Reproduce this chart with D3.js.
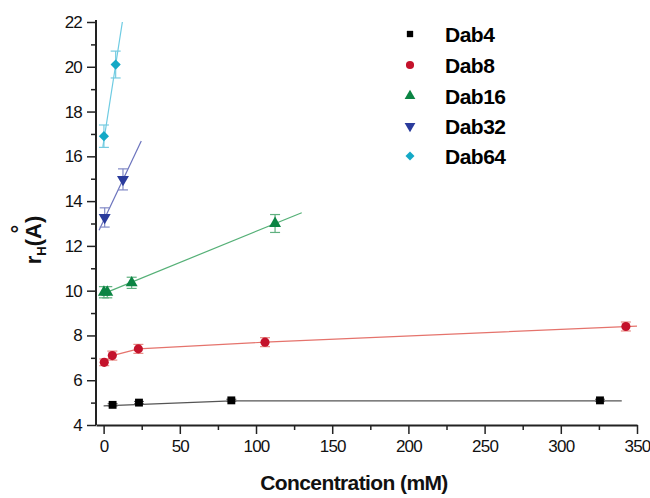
<!DOCTYPE html>
<html>
<head>
    <title>rH vs concentration</title>
    <script src="https://d3js.org/d3.v7.min.js"></script>
    <style>
        body { margin: 0; background: #fff; }
        svg { font-family: "Liberation Sans", Arial, sans-serif; }
        .tick text { font-size: 17px; fill: #111; letter-spacing: -0.8px; }
    </style>
</head>
<body>
    <div id="chart"></div>

    <script>
        // series names
        var seriesNames = ["Dab4", "Dab8", "Dab16", "Dab32", "Dab64"];

        // measured points (concentration mM, rH Å, error)
        var dab4X = [5.9, 23.2, 83.8, 325.7];
        var dab4Y = [4.9, 5.0, 5.1, 5.1];
        var dab4Err = [0.05, 0.05, 0.05, 0.05];

        var dab8X = [0.4, 5.7, 22.8, 105.9, 342.7];
        var dab8Y = [6.8, 7.1, 7.4, 7.7, 8.4];
        var dab8Err = [0.15, 0.2, 0.2, 0.2, 0.2];

        var dab16X = [0.2, 2.4, 18.4, 112.5];
        var dab16Y = [9.93, 9.93, 10.35, 13.0];
        var dab16Err = [0.25, 0.25, 0.25, 0.4];

        var dab32X = [0.7, 12.7];
        var dab32Y = [13.27, 14.97];
        var dab32Err = [0.43, 0.47];

        var dab64X = [0.2, 7.9];
        var dab64Y = [16.9, 20.1];
        var dab64Err = [0.5, 0.6];

        // fitted lines
        var dab4FitX = [0, 84, 340];
        var dab4FitY = [4.85, 5.08, 5.08];
        var dab8FitX = [0.4, 5.7, 22.8, 105.9, 350];
        var dab8FitY = [6.8, 7.1, 7.4, 7.7, 8.42];
        var dab16FitX = [0, 130];
        var dab16FitY = [9.87, 13.48];
        var dab32FitX = [-3, 24.7];
        var dab32FitY = [12.7, 16.68];
        var dab64FitX = [-0.5, 12.3];
        var dab64FitY = [16.42, 22];

        // axis ticks
        var xTicks = [0, 50, 100, 150, 200, 250, 300, 350];
        var xMinorTicks = [25, 75, 125, 175, 225, 275, 325];
        var yTicks = [4, 6, 8, 10, 12, 14, 16, 18, 20, 22];
        var yMinorTicks = [5, 7, 9, 11, 13, 15, 17, 19, 21];

        var xTitle = "Concentration (mM)";

        var markColors = ["#000000", "#c4122b", "#0b8443", "#2a3b9c", "#14a9c6"];
        var lineColors = ["#555555", "#e5736c", "#55b077", "#6b73bd", "#6dcbe2"];
        var errColors = ["#666666", "#e88a84", "#5fb07f", "#8189c6", "#76cbe0"];

        var symbols = [d3.symbolSquare, d3.symbolCircle, d3.symbolTriangle, d3.symbolTriangle, d3.symbolSquare];
        var rotations = [0, 0, 0, 180, 45];
        var sizes = [62, 66, 62, 62, 52];
        var legendSizes = [40, 52, 50, 50, 40];

        var seriesData = [
            {x: dab4X, y: dab4Y, e: dab4Err, fx: dab4FitX, fy: dab4FitY},
            {x: dab8X, y: dab8Y, e: dab8Err, fx: dab8FitX, fy: dab8FitY},
            {x: dab16X, y: dab16Y, e: dab16Err, fx: dab16FitX, fy: dab16FitY},
            {x: dab32X, y: dab32Y, e: dab32Err, fx: dab32FitX, fy: dab32FitY},
            {x: dab64X, y: dab64Y, e: dab64Err, fx: dab64FitX, fy: dab64FitY}
        ];

        var svg = d3.select("#chart").append("svg").attr("width", 650).attr("height", 498);

        var x = d3.scaleLinear().domain([-5, 350]).range([96, 637]);
        var y = d3.scaleLinear().domain([4, 22]).range([425, 22]);

        // axes
        svg.append("g")
            .attr("transform", "translate(0,425)")
            .call(d3.axisBottom(x).tickValues(xTicks).tickSize(9).tickSizeOuter(0).tickPadding(6));
        svg.append("g")
            .attr("transform", "translate(0,425)")
            .call(d3.axisBottom(x).tickValues(xMinorTicks).tickSize(5).tickFormat(""))
            .select(".domain").remove();

        var yAxis = svg.append("g")
            .attr("transform", "translate(96,0)")
            .call(d3.axisLeft(y).tickValues(yTicks).tickSize(9).tickSizeOuter(0).tickPadding(5));
        svg.append("g")
            .attr("transform", "translate(96,0)")
            .call(d3.axisLeft(y).tickValues(yMinorTicks).tickSize(5).tickFormat(""))
            .select(".domain").remove();

        svg.selectAll(".domain").attr("stroke", "#222").attr("stroke-width", 2);
        svg.selectAll(".tick line").attr("stroke", "#222").attr("stroke-width", 1.5);
        yAxis.select(".domain").attr("d", "M0,20V425");

        // titles
        svg.append("text")
            .attr("x", 354).attr("y", 490)
            .attr("text-anchor", "middle")
            .style("font-size", "21px").style("font-weight", "bold")
            .style("letter-spacing", "-0.6px")
            .attr("fill", "#111")
            .text(xTitle);

        var yLabel = svg.append("text")
            .attr("transform", "translate(41,240) rotate(-90)")
            .attr("text-anchor", "middle")
            .style("font-size", "22px").style("font-weight", "bold")
            .attr("fill", "#111");
        yLabel.append("tspan").text("r");
        yLabel.append("tspan").attr("dy", 5).style("font-size", "13px").text("H");
        yLabel.append("tspan").attr("dy", -5).text("(A)");

        svg.append("text")
            .attr("transform", "translate(27,229) rotate(-90)")
            .attr("text-anchor", "middle")
            .style("font-size", "22px").style("font-weight", "bold")
            .attr("fill", "#111")
            .text("°");

        // fit lines
        var line = d3.line().x(function(d) { return x(d[0]); }).y(function(d) { return y(d[1]); });
        seriesData.forEach(function(s, i) {
            var pts = s.fx.map(function(v, j) { return [v, s.fy[j]]; });
            svg.append("path")
                .attr("d", line(pts))
                .attr("fill", "none")
                .attr("stroke", lineColors[i])
                .attr("stroke-width", 1.2);
        });

        // error bars and markers
        seriesData.forEach(function(s, i) {
            var pts = s.x.map(function(v, j) { return {x: v, y: s.y[j], e: s.e[j]}; });
            var g = svg.append("g");
            var eb = g.selectAll(".err").data(pts).enter().append("g").attr("class", "err")
                .attr("stroke", errColors[i]).attr("stroke-width", 1.2);
            eb.append("line")
                .attr("x1", function(d) { return x(d.x); }).attr("x2", function(d) { return x(d.x); })
                .attr("y1", function(d) { return y(d.y - d.e); }).attr("y2", function(d) { return y(d.y + d.e); });
            eb.append("line")
                .attr("x1", function(d) { return x(d.x) - 5; }).attr("x2", function(d) { return x(d.x) + 5; })
                .attr("y1", function(d) { return y(d.y + d.e); }).attr("y2", function(d) { return y(d.y + d.e); });
            eb.append("line")
                .attr("x1", function(d) { return x(d.x) - 5; }).attr("x2", function(d) { return x(d.x) + 5; })
                .attr("y1", function(d) { return y(d.y - d.e); }).attr("y2", function(d) { return y(d.y - d.e); });

            g.selectAll(".pt").data(pts).enter().append("path").attr("class", "pt")
                .attr("d", d3.symbol().type(symbols[i]).size(sizes[i]))
                .attr("transform", function(d) {
                    return "translate(" + x(d.x) + "," + y(d.y) + ") rotate(" + rotations[i] + ")";
                })
                .attr("fill", markColors[i]);
        });

        // legend
        var legendY = [34, 65, 96, 126, 156];
        seriesNames.forEach(function(name, i) {
            svg.append("path")
                .attr("d", d3.symbol().type(symbols[i]).size(legendSizes[i]))
                .attr("transform", "translate(410," + legendY[i] + ") rotate(" + rotations[i] + ")")
                .attr("fill", markColors[i]);
            svg.append("text")
                .attr("x", 445).attr("y", legendY[i] + 8)
                .style("font-size", "21px").style("font-weight", "bold")
                .style("letter-spacing", "-0.5px")
                .attr("fill", "#000")
                .text(name);
        });
    </script>
</body>
</html>
